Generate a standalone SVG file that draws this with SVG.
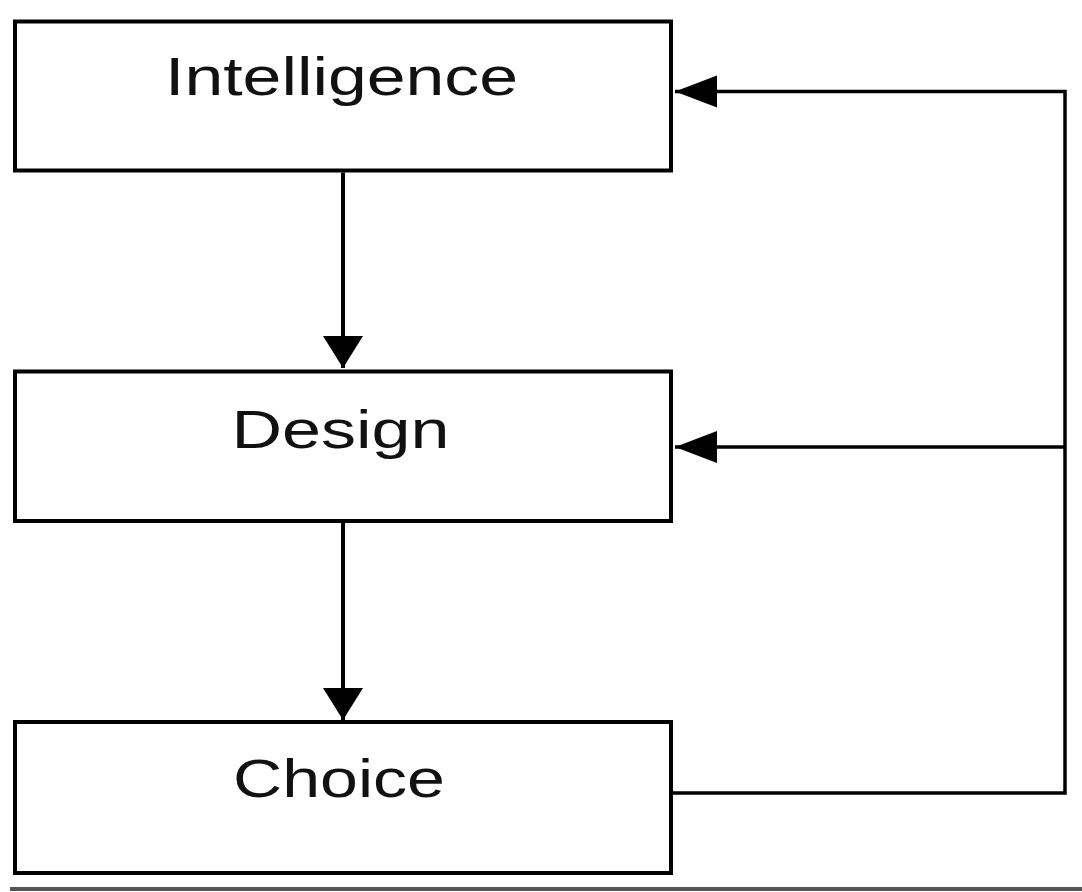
<svg xmlns="http://www.w3.org/2000/svg" width="1082" height="892" viewBox="0 0 1082 892">
  <style>
    .box { fill: #ffffff; stroke: #000000; stroke-width: 4; }
    .lbl { font-family: "Liberation Sans", Arial, sans-serif; font-size: 54px; fill: #111111; }
    .wire { fill: none; stroke: #000000; stroke-width: 3.5; }
    .down { fill: none; stroke: #000000; stroke-width: 4; }
  </style>
  <defs>
    <marker id="ahDown" markerUnits="userSpaceOnUse" markerWidth="40" markerHeight="34" viewBox="0 0 40 34" refX="20" refY="33" orient="0">
      <path d="M0,1 L40,1 L20,33 Z" fill="#000"/>
    </marker>
    <marker id="ahLeft" markerUnits="userSpaceOnUse" markerWidth="44" markerHeight="34" viewBox="0 0 44 34" refX="1" refY="17" orient="0">
      <path d="M43,1 L43,33 L1,17 Z" fill="#000"/>
    </marker>
  </defs>
  <rect x="0" y="0" width="1082" height="892" fill="#ffffff"/>

  <g id="intelligence">
    <rect class="box" x="15" y="21.5" width="656" height="149"/>
    <text class="lbl" x="341.5" y="95" text-anchor="middle" textLength="353" lengthAdjust="spacingAndGlyphs">Intelligence</text>
  </g>
  <g id="design">
    <rect class="box" x="15" y="371.5" width="656" height="149.5"/>
    <text class="lbl" x="231.5" y="448" textLength="218" lengthAdjust="spacingAndGlyphs">Design</text>
  </g>
  <g id="choice">
    <rect class="box" x="15" y="722" width="656" height="151"/>
    <text class="lbl" x="233" y="797" textLength="212" lengthAdjust="spacingAndGlyphs">Choice</text>
  </g>

  <g id="connectors">
    <path class="down" d="M343,172.5 V368" marker-end="url(#ahDown)"/>
    <path class="down" d="M343,523 V720" marker-end="url(#ahDown)"/>
    <path class="wire" d="M673,793 H1065 V91.5 H675" marker-end="url(#ahLeft)"/>
    <path class="wire" d="M1065,447 H675" marker-end="url(#ahLeft)"/>
  </g>

  <rect x="10" y="887" width="1072" height="4" fill="#555555"/>
</svg>
